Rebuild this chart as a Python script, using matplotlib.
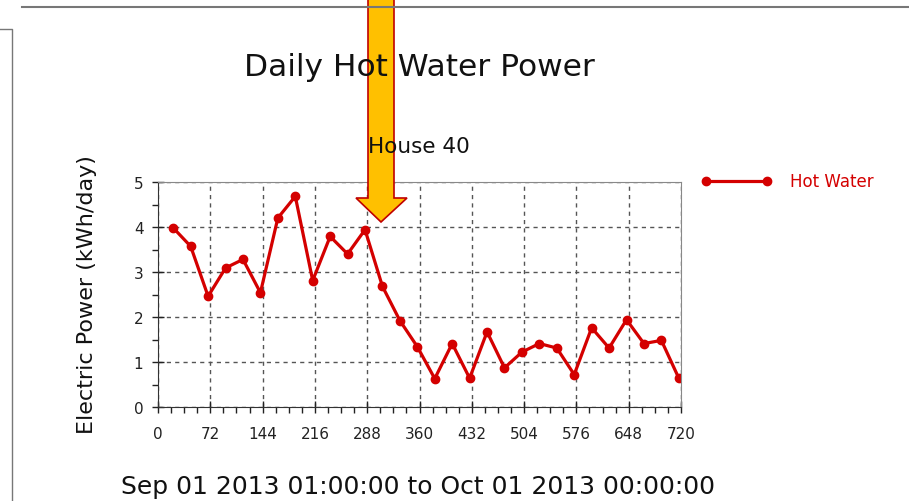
import matplotlib.pyplot as plt
import numpy as np
from matplotlib.patches import Polygon
from matplotlib.lines import Line2D

# hours since start of period, daily values
hours = [21 + 24 * k for k in range(30)]
power = [3.98, 3.57, 2.46, 3.09, 3.28, 2.54, 4.20, 4.68, 2.81, 3.79,
         3.40, 3.94, 2.68, 1.92, 1.34, 0.63, 1.41, 0.64, 1.67, 0.87,
         1.22, 1.41, 1.31, 0.72, 1.76, 1.31, 1.94, 1.41, 1.48, 0.64]
x_ticks = [0, 72, 144, 216, 288, 360, 432, 504, 576, 648, 720]
y_ticks = [0, 1, 2, 3, 4, 5]

red = '#d40000'
W, H = 909, 502

fig = plt.figure(figsize=(W / 100, H / 100), dpi=100)
fig.patch.set_facecolor('white')

# plot area in pixel terms of the screenshot
ax = fig.add_axes([158 / W, 1 - 408 / H, 523 / W, 225 / H])
ax.plot(hours, power, color=red, lw=2.3, marker='o', ms=6, mec=red, mfc=red)
ax.set_xlim(0, 720)
ax.set_ylim(0, 5)
ax.set_xticks(x_ticks)
ax.set_yticks(y_ticks)
ax.set_xticks(np.arange(0, 721, 18), minor=True)
ax.set_yticks(np.arange(0, 5.01, 0.5), minor=True)
ax.tick_params(which='major', direction='inout', length=9, width=1, labelsize=11, colors='#222222')
ax.tick_params(axis='x', which='major', pad=9)
ax.tick_params(axis='y', which='major', pad=6)
ax.tick_params(which='minor', direction='out', length=4, width=1, colors='#222222')
ax.grid(True, which='major', color='#555555', ls=(0, (3, 3)), lw=1)
for s in ax.spines.values():
    s.set_color('#888888')
ax.spines['left'].set_color('#333333')
ax.spines['bottom'].set_color('#333333')

fig.text(419 / W, 1 - 68 / H, 'Daily Hot Water Power', ha='center', va='center', fontsize=22.5, color='#111111')
fig.text(419 / W, 1 - 147 / H, 'House 40', ha='center', va='center', fontsize=15.5, color='#111111')
fig.text(87 / W, 1 - 295 / H, 'Electric Power (kWh/day)', ha='center', va='center', rotation=90,
         fontsize=16, color='#111111')
fig.text(418 / W, 1 - 487 / H, 'Sep 01 2013 01:00:00 to Oct 01 2013 00:00:00', ha='center', va='center',
         fontsize=18, color='#111111')

# legend
leg_line = Line2D([706 / W, 767 / W], [1 - 182 / H, 1 - 182 / H], transform=fig.transFigure,
                  color=red, lw=2.3, marker='o', ms=6, mfc=red, mec=red)
fig.add_artist(leg_line)
fig.text(790 / W, 1 - 182 / H, 'Hot Water', ha='left', va='center', fontsize=12, color=red)

# page frame lines from the screenshot
fig.add_artist(Line2D([22 / W, 1], [1 - 8 / H, 1 - 8 / H], transform=fig.transFigure, color='#777777', lw=1.5))
fig.add_artist(Line2D([0, 12 / W, 12 / W], [1 - 30 / H, 1 - 30 / H, 0], transform=fig.transFigure,
                      color='#777777', lw=1))

# orange arrow overlay
arrow_px = [(368, 0), (394, 0), (394, 199), (407, 199), (381, 223), (356, 199), (368, 199)]
arrow = Polygon([(x / W, 1 - y / H) for x, y in arrow_px], closed=True, transform=fig.transFigure,
                facecolor='#ffc000', edgecolor='#c00000', lw=1.2)
fig.add_artist(arrow)

fig.savefig('out.png', dpi=100)
